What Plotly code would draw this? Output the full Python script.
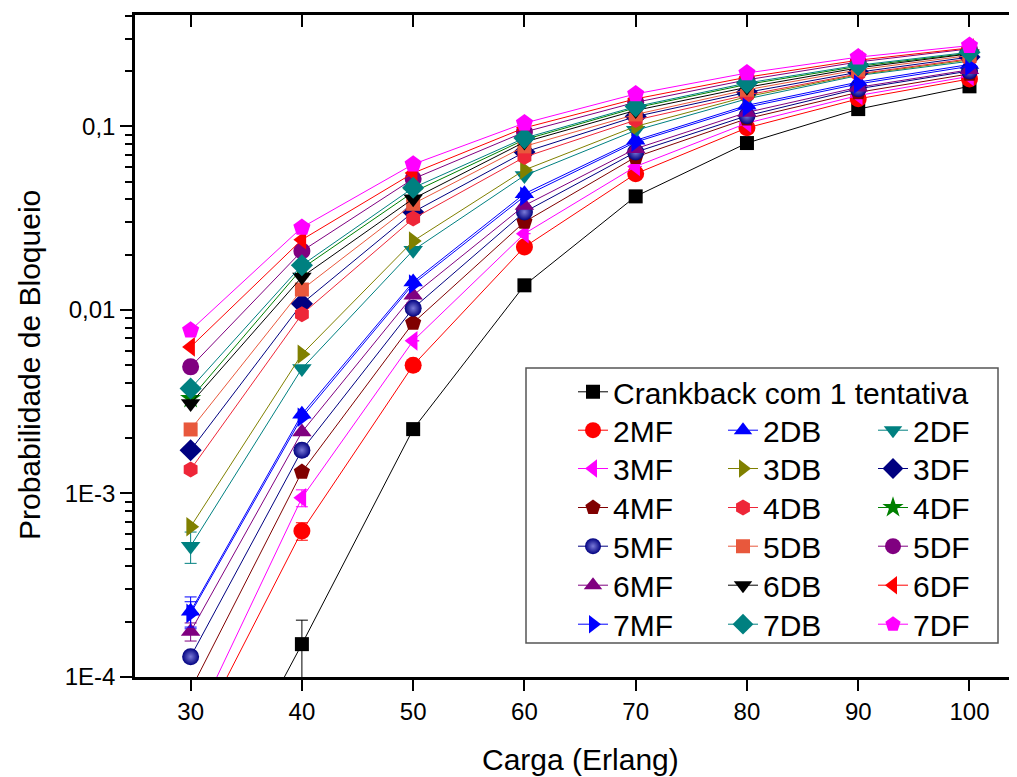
import plotly.graph_objects as go

# ---------------- data ----------------
carga = [30, 40, 50, 60, 70, 80, 90, 100]

crankback = [1.1e-5, 0.000151, 0.00224, 0.0136, 0.0415, 0.081, 0.124, 0.165]
mf2 = [4.1e-5, 0.000624, 0.00499, 0.0220, 0.0551, 0.098, 0.141, 0.181]
mf3 = [5.0e-5, 0.000946, 0.00678, 0.0260, 0.0604, 0.104, 0.147, 0.187]
mf4 = [8.5e-5, 0.00131, 0.00849, 0.0301, 0.0680, 0.110, 0.153, 0.193]
mf5 = [0.000129, 0.00172, 0.0102, 0.0341, 0.0723, 0.114, 0.160, 0.200]
mf6 = [0.000177, 0.00216, 0.0120, 0.0370, 0.0755, 0.119, 0.163, 0.203]
mf7 = [0.000222, 0.00260, 0.0138, 0.0415, 0.0820, 0.127, 0.170, 0.212]
db2 = [0.000228, 0.00270, 0.0142, 0.0429, 0.0838, 0.130, 0.174, 0.217]
db3 = [0.000658, 0.00573, 0.0237, 0.0578, 0.0998, 0.145, 0.191, 0.230]
db4 = [0.00135, 0.00946, 0.0314, 0.0679, 0.108, 0.148, 0.193, 0.233]
db5 = [0.00223, 0.0129, 0.0378, 0.0777, 0.116, 0.158, 0.203, 0.243]
db6 = [0.00309, 0.0151, 0.0403, 0.0820, 0.122, 0.163, 0.208, 0.248]
db7 = [0.00373, 0.0175, 0.0462, 0.0862, 0.128, 0.172, 0.215, 0.253]
df2 = [0.000516, 0.00479, 0.0211, 0.0539, 0.095, 0.141, 0.189, 0.226]
df3 = [0.00172, 0.0108, 0.0341, 0.0723, 0.113, 0.153, 0.197, 0.238]
df4 = [0.00329, 0.0168, 0.0438, 0.0845, 0.126, 0.169, 0.212, 0.250]
df5 = [0.00489, 0.0209, 0.0517, 0.0930, 0.135, 0.179, 0.224, 0.264]
df6 = [0.00628, 0.0241, 0.0556, 0.0980, 0.141, 0.185, 0.229, 0.267]
df7 = [0.00774, 0.0281, 0.0621, 0.1040, 0.150, 0.195, 0.238, 0.275]

# error bars (only the visible ones)
err_crankback = [0, 5.3e-5, 0, 0, 0, 0, 0, 0]
err_mf2 = [0, 6.8e-5, 0, 0, 0, 0, 0, 0]
err_mf3 = [0, 1.0e-4, 0, 0, 0, 0, 0, 0]
err_mf6 = [2.0e-5, 0, 0, 0, 0, 0, 0, 0]
err_mf7 = [3.5e-5, 0, 0, 0, 0, 0, 0, 0]
err_db2 = [4.5e-5, 0, 0, 0, 0, 0, 0, 0]
err_df2 = [1.0e-4, 0, 0, 0, 0, 0, 0, 0]

y_tickvals = [1e-4, 1e-3, 1e-2, 1e-1]
y_ticktext = ["1E-4", "1E-3", "0,01", "0,1"]
x_tickvals = [30, 40, 50, 60, 70, 80, 90, 100]
x_range = [25, 104.27]

FONT = "Liberation Sans, Arial, sans-serif"

# name, values, color, symbol, size, legend, errors
series = [
    ("Crankback com 1 tentativa", crankback, "#000000", "square", 14, "legend", err_crankback),
    ("2MF", mf2, "#FF0000", "circle", 17, "legend2", err_mf2),
    ("2DB", db2, "#0000FF", "triangle-up", 17, "legend2", err_db2),
    ("2DF", df2, "#008080", "triangle-down", 17, "legend2", err_df2),
    ("3MF", mf3, "#FF00FF", "triangle-left", 17, "legend3", err_mf3),
    ("3DB", db3, "#808000", "triangle-right", 17, "legend3", None),
    ("3DF", df3, "#000080", "diamond", 17, "legend3", None),
    ("4MF", mf4, "#800000", "pentagon", 17, "legend4", None),
    ("4DB", db4, "#EE2638", "hexagon", 16, "legend4", None),
    ("4DF", df4, "#008000", "star", 16, "legend4", None),
    ("5MF", mf5, "#000080", "circle", 17, "legend5", None),
    ("5DB", db5, "#E8583C", "square", 14, "legend5", None),
    ("5DF", df5, "#800080", "circle", 17, "legend5", None),
    ("6MF", mf6, "#800080", "triangle-up", 17, "legend6", err_mf6),
    ("6DB", db6, "#000000", "triangle-down", 17, "legend6", None),
    ("6DF", df6, "#FF0000", "triangle-left", 17, "legend6", None),
    ("7MF", mf7, "#0000FF", "triangle-right", 17, "legend7", err_mf7),
    ("7DB", db7, "#008080", "diamond", 17, "legend7", None),
    ("7DF", df7, "#FF00FF", "pentagon", 18, "legend7", None),
]

fig = go.Figure()
for i, (name, vals, color, symbol, size, leg, err) in enumerate(series):
    marker = dict(color=color, symbol=symbol, size=size, line=dict(width=0))
    if name == "5MF":
        marker["gradient"] = dict(type="radial", color="#7a7ad8")
    tr = dict(
        x=carga, y=vals, name=name, mode="lines+markers",
        line=dict(color=color, width=1),
        marker=marker, legend=leg,
    )
    # last (topmost) series lives on the identical top axis so its ticks are drawn
    if i == len(series) - 1:
        tr["xaxis"] = "x2"
    if err is not None:
        tr["error_y"] = dict(type="data", array=err, visible=True,
                             color=color, thickness=1, width=6)
    fig.add_trace(go.Scatter(**tr))

# ---------------- layout ----------------
OFF = 8  # page body margin
W, H = 1017 - OFF, 777 - OFF
L, R, T, B = 135 - OFF, 0, 15 - OFF, 777 - 677
pw, ph = W - L - R, H - T - B


def px_x(p):  # screen px -> paper x
    return (p - OFF - L) / pw


def px_y(p):  # screen px -> paper y
    return (H - B - (p - OFF)) / ph


legend_font = dict(family=FONT, size=30, color="black")
row_centers = [393.3, 431.7, 470.0, 509.0, 547.7, 586.7, 625.7]
legend_names = ["legend", "legend2", "legend3", "legend4", "legend5", "legend6", "legend7"]
legends = {}
for ln, yc in zip(legend_names, row_centers):
    d = dict(
        x=px_x(573), y=px_y(yc - 27.5), xanchor="left", yanchor="top",
        orientation="h",
        font=legend_font, bgcolor="rgba(0,0,0,0)", borderwidth=0,
        itemclick=False, itemdoubleclick=False,
    )
    if ln != "legend":
        d["entrywidth"] = 105
        d["entrywidthmode"] = "pixels"
    legends[ln] = d

fig.update_layout(
    width=W, height=H,
    margin=dict(l=L, r=R, t=T, b=B, pad=0, autoexpand=False),
    paper_bgcolor="white", plot_bgcolor="white",
    font=dict(family=FONT, size=24, color="black"),
    showlegend=True,
    **legends,
    xaxis=dict(
        range=x_range, tickmode="array", tickvals=x_tickvals,
        showgrid=False, zeroline=False,
        showline=True, linecolor="black", linewidth=2.5, mirror=True,
        ticks="outside", ticklen=11, tickwidth=2, tickcolor="black",
        tickfont=dict(family=FONT, size=24, color="black"),
    ),
    xaxis2=dict(
        overlaying="x", side="top", anchor="y",
        range=x_range, tickmode="array", tickvals=x_tickvals,
        showgrid=False, zeroline=False, showline=False,
        ticks="inside", ticklen=12, tickwidth=2, tickcolor="black",
        showticklabels=False, layer="above traces",
    ),
    yaxis=dict(
        type="log", range=[-4, -0.394],
        tickmode="array", tickvals=y_tickvals, ticktext=y_ticktext,
        showgrid=False, zeroline=False,
        showline=True, linecolor="black", linewidth=2.5, mirror=False,
        ticks="outside", ticklen=12, tickwidth=2, tickcolor="black",
        tickfont=dict(family=FONT, size=24, color="black"),
        minor=dict(ticks="outside", ticklen=7, tickwidth=2, tickcolor="black",
                   dtick="D1", showgrid=False),
    ),
    shapes=[dict(
        type="rect", xref="paper", yref="paper",
        x0=px_x(526), x1=px_x(998), y0=px_y(643), y1=px_y(368),
        line=dict(color="#555555", width=1.5), fillcolor="white", layer="below",
    )],
    annotations=[
        dict(text="Carga (Erlang)", xref="paper", yref="paper",
             x=px_x(580), y=px_y(759), xanchor="center", yanchor="middle",
             showarrow=False, font=dict(family=FONT, size=30, color="black")),
        dict(text="Probabilidade de Bloqueio", xref="paper", yref="paper",
             x=px_x(30), y=px_y(365), xanchor="center", yanchor="middle",
             textangle=-90, showarrow=False,
             font=dict(family=FONT, size=30, color="black")),
    ],
)

fig.write_html("out.html")
